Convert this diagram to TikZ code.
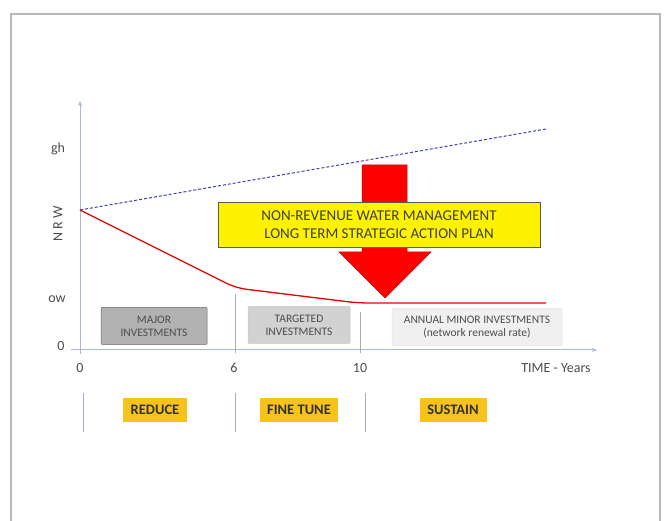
\documentclass[tikz,border=0pt]{standalone}
\usepackage{fontspec}
\setmainfont{Carlito}
\usetikzlibrary{arrows.meta}
\definecolor{axisblue}{HTML}{A9B9D3}
\definecolor{labelgray}{HTML}{4D4D4D}
\definecolor{phasegold}{HTML}{F7C21B}
\begin{document}
\begin{tikzpicture}[x=1pt, y=-1pt,
	axis/.style={draw=axisblue, line width=1pt, -{Stealth[length=5pt,width=4pt]}},
	sep/.style={draw=axisblue!80!gray, line width=0.8pt},
	lab/.style={text=labelgray, font=\fontsize{14}{16}\selectfont},
	invbox/.style={draw=gray!80!black, line width=0.5pt, rounded corners=1pt, align=center, text=labelgray, font=\fontsize{11.5}{13}\selectfont, minimum height=37pt, inner xsep=1pt},
	phase/.style={fill=phasegold, text=black!80, font=\bfseries\fontsize{14.5}{16}\selectfont, minimum height=24pt, inner xsep=2pt}]
	\useasboundingbox (0,0) rectangle (665,521);
	% frame
	\fill[white] (0,0) rectangle (665,521);
	\draw[gray!55, line width=1.6pt] (11,14) rectangle (660,540);

	% axes
	\coordinate (ybot) at (80,354);
	\coordinate (ytop) at (80,101);
	\coordinate (xleft) at (71,350);
	\coordinate (xright) at (597,350);
	\draw[axis] (ybot) -- (ytop);
	\draw[axis] (xleft) -- (xright);

	\node[lab] (tzero) at (80,368) {0};
	\node[lab] (tsix) at (234,368) {6};
	\node[lab] (tten) at (360,368) {10};
	\node[lab] (tlabel) at (556,368) {TIME - Years};
	\node[lab] (yzero) at (61,346) {0};
	\node[lab] (ylow) at (57,299) {ow};
	\node[lab] (yhigh) at (58,149) {gh};
	\node[lab, rotate=90] (ytitle) at (58,224) {N R W};

	% separators in the chart
	\coordinate (sixtop) at (235,294);
	\coordinate (sixbot) at (235,353);
	\coordinate (tentop) at (360,312);
	\coordinate (tenbot) at (360,353);
	\draw[sep] (sixtop) -- (sixbot);
	\draw[sep] (tentop) -- (tenbot);

	% NRW curves
	\coordinate (start) at (80,210);
	\coordinate (grow) at (546,129);
	\coordinate (bendone) at (236,288);
	\coordinate (bendtwo) at (358,303);
	\coordinate (stop) at (546,303);
	\draw[blue!50!gray, densely dashed, line width=1pt] (start) -- (grow);
	\draw[red!90!black, line width=1.3pt, rounded corners=10pt] (start) -- (bendone) -- (bendtwo) -- (stop);

	% investment boxes
	\node[invbox, fill=gray!60, minimum width=106pt] (major) at (154,326) {MAJOR\\INVESTMENTS};
	\node[invbox, fill=gray!35, draw=gray!45, minimum width=102pt] (targeted) at (299,325) {TARGETED\\INVESTMENTS};
	\node[invbox, fill=gray!12, draw=gray!20, minimum width=170pt] (annual) at (477,327) {ANNUAL MINOR INVESTMENTS\\(network renewal rate)};

	% strategic action arrow
	\fill[red, draw=red!80!black, line width=0.5pt] (362,165) -- (407,165) -- (407,252) -- (431,252) -- (385,298) -- (339,252) -- (362,252) -- cycle;
	\node[fill=yellow, draw=gray!70!black, line width=0.6pt, minimum width=322pt, minimum height=45pt, align=center, text=black!75, font=\fontsize{15}{18}\selectfont] (plan) at (379,225) {NON-REVENUE WATER MANAGEMENT\\LONG TERM STRATEGIC ACTION PLAN};

	% phases
	\coordinate (pa) at (83,393);
	\coordinate (pb) at (235,393);
	\coordinate (pc) at (365,393);
	\draw[sep] (pa) -- ++(0,39);
	\draw[sep] (pb) -- ++(0,39);
	\draw[sep] (pc) -- ++(0,39);
	\node[phase, minimum width=64pt] (reduce) at (155,410) {REDUCE};
	\node[phase, minimum width=78pt] (finetune) at (299,410) {FINE TUNE};
	\node[phase, minimum width=67pt] (sustain) at (453,410) {SUSTAIN};
\end{tikzpicture}
\end{document}
